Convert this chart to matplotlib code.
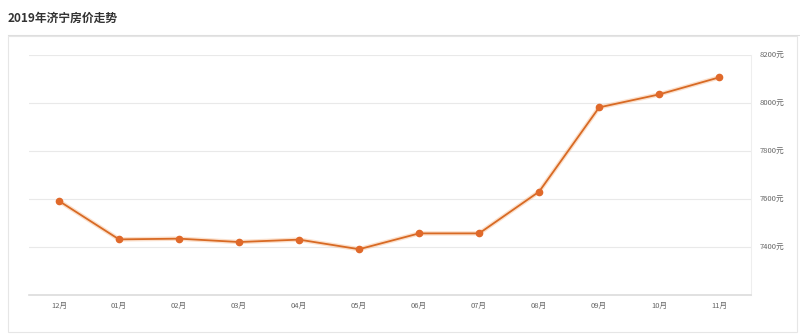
import matplotlib
matplotlib.use("Agg")
import matplotlib.pyplot as plt
from matplotlib.patches import Rectangle
from matplotlib.lines import Line2D

plt.rcParams['font.family'] = ['Noto Sans CJK SC', 'DejaVu Sans']

# 月份和房价
meses = ["12月", "01月", "02月", "03月", "04月", "05月",
         "06月", "07月", "08月", "09月", "10月", "11月"]
precos = [7593, 7433, 7436, 7422, 7432, 7392,
          7458, 7458, 7632, 7983, 8037, 8108]
yticks = [7400, 7600, 7800, 8000, 8200]
titulo = "2019年济宁房价走势"

fig = plt.figure(figsize=(8, 3.34), dpi=100)
W, H = 800, 334

# caixa externa e linha do titulo
fig.patches.append(Rectangle((8 / W, 1 - 332 / H), 789 / W, 296 / H,
                             transform=fig.transFigure, fill=False,
                             edgecolor="#e6e6e6", lw=0.8))
fig.lines.append(Line2D([8 / W, 1], [1 - 35 / H, 1 - 35 / H],
                        transform=fig.transFigure, color="#dedede", lw=0.8))
fig.text(8 / W, 1 - 18 / H, titulo, fontsize=8.5, fontweight="bold",
         color="#333333", va="center", ha="left")

ax = fig.add_axes([29 / W, 1 - 295.3 / H, 722 / W, 240 / H])
x = list(range(len(meses)))
ax.plot(x, precos, color="#f6a56a", lw=3.2, alpha=0.35, solid_capstyle="round")
ax.plot(x, precos, color="#d86a24", lw=1.3, marker="o", markersize=4.5,
        markerfacecolor="#e0692a", markeredgecolor="#e0692a")

ax.set_xlim(-0.5, 11.53)
ax.set_ylim(7200, 8200)
ax.set_yticks(yticks)
ax.set_yticklabels([f"{v}元" for v in yticks])
ax.yaxis.tick_right()
ax.set_xticks(x)
ax.set_xticklabels(meses)
ax.tick_params(axis="both", length=0, labelsize=5.5, labelcolor="#666666")
ax.tick_params(axis="y", pad=6)
ax.tick_params(axis="x", pad=5)
ax.grid(axis="y", color="#e9e9e9", lw=0.8)
ax.set_axisbelow(True)
for lado in ["top", "left"]:
    ax.spines[lado].set_visible(False)
ax.spines["bottom"].set_color("#dcdcdc")
ax.spines["bottom"].set_linewidth(1.2)
ax.spines["right"].set_color("#eeeeee")
ax.spines["right"].set_linewidth(0.8)

plt.savefig("out.png", dpi=100)
